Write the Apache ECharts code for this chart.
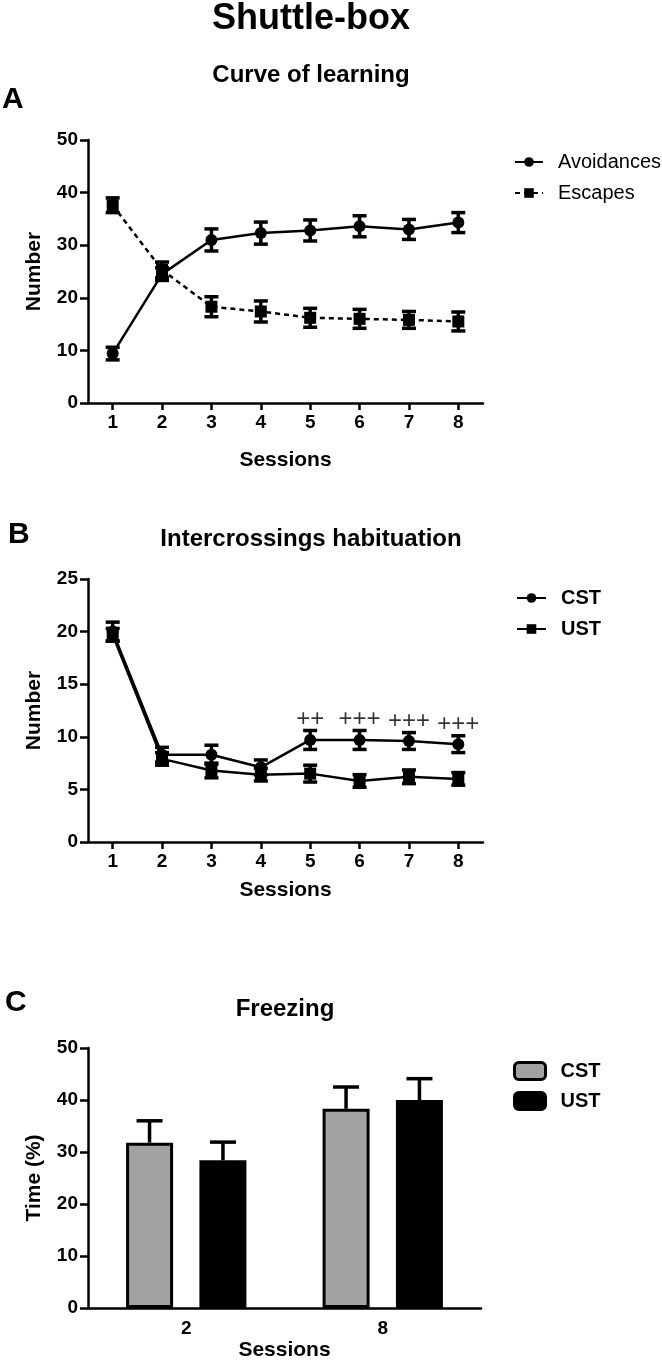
<!DOCTYPE html>
<html><head><meta charset="utf-8">
<script src="https://cdn.jsdelivr.net/npm/echarts@6/dist/echarts.min.js"></script>
<style>html,body{margin:0;padding:0;background:#fff}#c{width:662px;height:1362px}</style>
</head><body><div id="c"></div>
<script>
// ---------- DATA ----------
const sessions = ['1','2','3','4','5','6','7','8'];
const avoidances    = [9.4, 24.5, 31.0, 32.3, 32.8, 33.6, 33.0, 34.3];
const avoidancesErr = [1.2, 1.2, 2.1, 2.1, 2.0, 2.0, 1.9, 1.9];
const escapes       = [37.6, 25.3, 18.3, 17.4, 16.2, 16.0, 15.8, 15.5];
const escapesErr    = [1.4, 1.5, 1.9, 2.0, 1.8, 1.8, 1.6, 1.8];

const cstCross    = [20.0, 8.3, 8.3, 7.1, 9.7, 9.7, 9.6, 9.3];
const cstCrossErr = [0.9, 0.7, 0.9, 0.7, 0.9, 0.9, 0.8, 0.8];
const ustCross    = [19.7, 7.9, 6.8, 6.4, 6.5, 5.8, 6.2, 6.0];
const ustCrossErr = [0.6, 0.6, 0.7, 0.6, 0.8, 0.6, 0.65, 0.6];
const annotations = ['', '', '', '', '++', '+++', '+++', '+++'];

const freezeSessions = ['2', '8'];
const cstFreeze    = [31.8, 38.3];
const cstFreezeErr = [4.2, 4.2];
const ustFreeze    = [28.4, 40.0];
const ustFreezeErr = [3.5, 4.1];

// ---------- STYLE ----------
const FONT = '"Liberation Sans", Arial, Helvetica, sans-serif';
const GRAY = '#a2a2a2';
const chart = echarts.init(document.getElementById('c'));

function errorBars(means, errs, axisIdx, capHalf, lw, offset, upOnly) {
  return {
    type: 'custom',
    xAxisIndex: axisIdx, yAxisIndex: axisIdx,
    z: 1, silent: true,
    encode: {x: 0, y: [1, 2]},
    data: means.map((m, i) => [i, upOnly ? m : m - errs[i], m + errs[i]]),
    renderItem(params, api) {
      const lo = api.coord([api.value(0), api.value(1)]);
      const hi = api.coord([api.value(0), api.value(2)]);
      const x = lo[0] + offset;
      const st = {stroke: '#000', lineWidth: lw};
      const children = [
        {type: 'line', shape: {x1: x, y1: lo[1], x2: x, y2: hi[1]}, style: st},
        {type: 'line', shape: {x1: x - capHalf, y1: hi[1], x2: x + capHalf, y2: hi[1]}, style: st}
      ];
      if (!upOnly) children.push({type: 'line', shape: {x1: x - capHalf, y1: lo[1], x2: x + capHalf, y2: lo[1]}, style: st});
      return {type: 'group', children};
    }
  };
}

function xCat(gridIndex, data, name, nameGap, labelMargin, showTick) {
  return {
    type: 'category', gridIndex, data, boundaryGap: true,
    name, nameLocation: 'middle', nameGap,
    nameTextStyle: {fontFamily: FONT, fontWeight: 'bold', fontSize: 21, color: '#000'},
    axisLine: {lineStyle: {color: '#000', width: 2.5}},
    axisTick: {show: showTick, alignWithLabel: true, length: 7, lineStyle: {color: '#000', width: 2.5}},
    axisLabel: {fontFamily: FONT, fontWeight: 'bold', fontSize: 19, color: '#000', margin: labelMargin},
    splitLine: {show: false}
  };
}
function yVal(gridIndex, max, interval, name) {
  return {
    type: 'value', gridIndex, min: 0, max, interval,
    name, nameLocation: 'middle', nameGap: 43,
    nameTextStyle: {fontFamily: FONT, fontWeight: 'bold', fontSize: 21, color: '#000'},
    axisLine: {show: true, lineStyle: {color: '#000', width: 2.5}},
    axisTick: {show: true, length: 8, lineStyle: {color: '#000', width: 2.5}},
    axisLabel: {fontFamily: FONT, fontWeight: 'bold', fontSize: 19, color: '#000', margin: 10},
    splitLine: {show: false}
  };
}
function gtext(text, x, y, size, align) {
  return {type: 'text', x, y, style: {text, fontFamily: FONT, fontWeight: 'bold', fontSize: size, fill: '#000',
    textAlign: align || 'center', textVerticalAlign: 'middle'}};
}

const option = {
  backgroundColor: '#fff',
  animation: false,
  graphic: [
    gtext('Shuttle-box', 311, 19, 36),
    gtext('Curve of learning', 311, 75, 24),
    gtext('Intercrossings habituation', 311, 539, 24),
    gtext('Freezing', 285, 1009, 24),
    gtext('A', 2, 100, 30, 'left'),
    gtext('B', 8, 535, 30, 'left'),
    gtext('C', 5, 1003, 30, 'left')
  ],
  grid: [
    {left: 88, top: 140, width: 395, height: 263},
    {left: 88, top: 579, width: 395, height: 263},
    {left: 88, top: 1048, width: 393, height: 263}
  ],
  xAxis: [
    xCat(0, sessions, 'Sessions', 47, 10, true),
    xCat(1, sessions, 'Sessions', 38, 10, true),
    xCat(2, freezeSessions, 'Sessions', 32, 11, false)
  ],
  yAxis: [
    yVal(0, 50, 10, 'Number'),
    yVal(1, 25, 5, 'Number'),
    yVal(2, 50, 10, 'Time (%)')
  ],
  legend: [
    {data: ['Avoidances', 'Escapes'], orient: 'vertical', left: 509, top: 147,
     itemWidth: 28, itemHeight: 12, itemGap: 11, selectedMode: false,
     textStyle: {fontFamily: FONT, fontSize: 20, color: '#000', lineHeight: 20, padding: [0, 0, 0, 10]}},
    {data: ['CST', 'UST'], orient: 'vertical', left: 511, top: 583,
     itemWidth: 29, itemHeight: 12, itemGap: 11, selectedMode: false,
     textStyle: {fontFamily: FONT, fontSize: 20, fontWeight: 'bold', color: '#000', lineHeight: 20, padding: [0, 0, 0, 10]}},
    {data: ['CST#C', 'UST#C'], orient: 'vertical', left: 508, top: 1056,
     itemWidth: 31, itemHeight: 17, itemGap: 10, selectedMode: false, icon: 'roundRect',
     itemStyle: {borderWidth: 3, borderColor: '#000'},
     formatter: n => n.split('#')[0],
     textStyle: {fontFamily: FONT, fontSize: 20, fontWeight: 'bold', color: '#000', lineHeight: 20, padding: [0, 0, 0, 10]}}
  ],
  series: [
    errorBars(avoidances, avoidancesErr, 0, 7, 3.5, 0, false),
    errorBars(escapes, escapesErr, 0, 7, 3.5, 0, false),
    {name: 'Avoidances', type: 'line', xAxisIndex: 0, yAxisIndex: 0, data: avoidances, z: 3,
     symbol: 'circle', symbolSize: 12, itemStyle: {color: '#000'}, lineStyle: {color: '#000', width: 2.5}},
    {name: 'Escapes', type: 'line', xAxisIndex: 0, yAxisIndex: 0, data: escapes, z: 3,
     symbol: 'rect', symbolSize: 12, itemStyle: {color: '#000'}, lineStyle: {color: '#000', width: 2.5, type: [5, 4]}},

    errorBars(cstCross, cstCrossErr, 1, 7, 3.5, 0, false),
    errorBars(ustCross, ustCrossErr, 1, 7, 3.5, 0, false),
    {name: 'CST', type: 'line', xAxisIndex: 1, yAxisIndex: 1, data: cstCross, z: 3,
     symbol: 'circle', symbolSize: 12, itemStyle: {color: '#000'}, lineStyle: {color: '#000', width: 2.5}},
    {name: 'UST', type: 'line', xAxisIndex: 1, yAxisIndex: 1, data: ustCross, z: 3,
     symbol: 'rect', symbolSize: 12, itemStyle: {color: '#000'}, lineStyle: {color: '#000', width: 2.5}},
    {type: 'scatter', xAxisIndex: 1, yAxisIndex: 1, silent: true, symbolSize: 0, z: 4,
     data: cstCross.map((m, i) => [i, m + cstCrossErr[i]]),
     label: {show: true, position: 'top', distance: -1, formatter: p => annotations[p.dataIndex],
       fontFamily: FONT, fontSize: 24, color: '#000'}},

    {name: 'CST#C', type: 'bar', xAxisIndex: 2, yAxisIndex: 2, data: cstFreeze, barWidth: 47, barGap: '56%', z: 2,
     itemStyle: {color: GRAY, borderColor: '#000', borderWidth: 3}},
    {name: 'UST#C', type: 'bar', xAxisIndex: 2, yAxisIndex: 2, data: ustFreeze, barWidth: 47, barGap: '56%', z: 2,
     itemStyle: {color: '#000', borderColor: '#000', borderWidth: 3}},
    Object.assign(errorBars(cstFreeze, cstFreezeErr, 2, 13, 3.5, -36.7, true), {z: 1}),
    Object.assign(errorBars(ustFreeze, ustFreezeErr, 2, 13, 3.5, 36.7, true), {z: 1})
  ]
};
chart.setOption(option);
</script></body></html>
